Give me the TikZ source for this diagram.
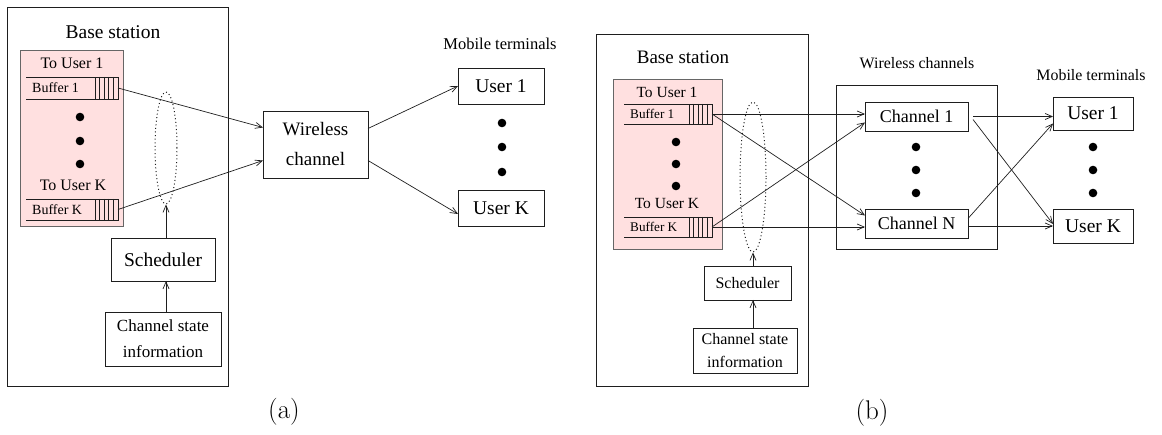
\documentclass[tikz,border=0pt]{standalone}
\usepackage{fontspec}
\usetikzlibrary{arrows.meta,shapes.geometric,calc}
\newfontfamily\tms{Liberation Serif}
\definecolor{qpink}{RGB}{255,224,224}
\definecolor{ink}{RGB}{30,30,30}

% one transmit queue: two rails, a striped head and a label
\newcommand\qbuf[8]{%
  \pgfmathsetmacro\qw{#4-#3}\pgfmathsetmacro\qh{#6-#5}%
  \draw[rail] (#2,#5) -- (#3,#5) (#2,#6) -- (#3,#6);
  \node[box, minimum width=\qw pt, minimum height=\qh pt, anchor=north west] (#1) at (#3,#5) {};
  \foreach \k in {1,...,4} \draw[rail] ({#3+\k*\qw/5},#5) -- ({#3+\k*\qw/5},#6);
  \node[font=\tms\fontsize{#8}{#8}\selectfont, anchor=west, inner sep=0pt] (#1l) at ({#2+6},{(#5+#6)/2}) {#7};
}

\tikzset{
  rail/.style={line width=0.8pt, draw=ink},
  box/.style={draw=ink, line width=0.9pt, inner sep=0pt, outer sep=0pt},
  arr/.style={line width=0.7pt, draw=ink, -{Straight Barb[length=7pt,width=6pt]}},
  bigdot/.style={fill=black},
  ring/.style={ellipse, draw=ink, dash pattern=on 1pt off 2.6pt, line width=1pt, inner sep=0pt},
  lbl/.style={inner sep=0pt},
}

\begin{document}
\begin{tikzpicture}[x=1pt,y=-1pt]
\useasboundingbox (0,0) rectangle (1162,435);

% ---------------- (a) single wireless channel ----------------
\node[box, minimum width=221pt, minimum height=379pt] (bsA) at (117.5,196.5) {};
\node[lbl, font=\tms\fontsize{19.5}{22}\selectfont] (bsAt) at (113,32) {Base station};
\node[box, fill=qpink, draw=black!60, minimum width=103pt, minimum height=176pt] (pkA) at (71.5,138) {};
\node[lbl, font=\tms\fontsize{16}{18}\selectfont] (toA1) at (72,63) {To User 1};
\node[lbl, font=\tms\fontsize{16}{18}\selectfont] (toAK) at (73,185) {To User K};
\qbuf{qA1}{26}{95}{118}{77}{99}{Buffer 1}{14}
\qbuf{qAK}{26}{95}{118}{199}{220}{Buffer K}{14}
\foreach \y in {117,141,164} \fill[bigdot] (80,\y) circle (4.3);

\node[ring, minimum width=22pt, minimum height=112pt] (ellA) at (166,148) {};
\node[box, minimum width=104pt, minimum height=43pt, font=\tms\fontsize{19.5}{22}\selectfont] (schA) at (163,259.5) {Scheduler};
\node[box, minimum width=116pt, minimum height=54pt, align=center, font=\tms\fontsize{17}{26}\selectfont] (csiA) at (163,339) {Channel state\\information};
\draw[arr] (csiA.north -| ellA.south) -- (schA.south -| ellA.south);
\draw[arr] (schA.north -| ellA.south) -- (ellA.south);

\node[box, minimum width=105pt, minimum height=67pt, align=center, font=\tms\fontsize{19}{30}\selectfont] (wcA) at (315.5,144.5) {Wireless\\channel};
\node[box, minimum width=86pt, minimum height=36pt, font=\tms\fontsize{19.5}{22}\selectfont] (uA1) at (501,86) {User 1};
\node[box, minimum width=86pt, minimum height=36pt, font=\tms\fontsize{19.5}{22}\selectfont] (uAK) at (501,208) {User K};
\foreach \y in {123,147,172} \fill[bigdot] (502,\y) circle (4.3);
\node[lbl, font=\tms\fontsize{16.5}{18}\selectfont] (mtA) at (500,44) {Mobile terminals};

\draw[arr] (qA1.east) -- ($(wcA.west)+(0,-17)$);
\draw[arr] (qAK.east) -- ($(wcA.west)+(0,16)$);
\draw[arr] ($(wcA.east)+(0,-16)$) -- (uA1.west);
\draw[arr] ($(wcA.east)+(0,16)$) -- ($(uAK.west)+(0,6)$);

\node[lbl, font=\fontsize{27}{29}\selectfont] (capA) at (284,412) {(a)};

% ---------------- (b) several parallel channels ----------------
\node[box, minimum width=212pt, minimum height=352pt] (bsB) at (702,210) {};
\node[lbl, font=\tms\fontsize{19}{22}\selectfont] (bsBt) at (683,57) {Base station};
\node[box, fill=qpink, draw=black!60, minimum width=109pt, minimum height=170pt] (pkB) at (667.5,164) {};
\node[lbl, font=\tms\fontsize{15.5}{18}\selectfont] (toB1) at (667,92) {To User 1};
\node[lbl, font=\tms\fontsize{15.5}{18}\selectfont] (toBK) at (667,204) {To User K};
\qbuf{qB1}{624}{689}{712}{104}{124}{Buffer 1}{13.2}
\qbuf{qBK}{624}{689}{712}{217}{237}{Buffer K}{13.2}
\foreach \y in {142,164,186} \fill[bigdot] (676,\y) circle (4.3);

\node[ring, minimum width=26pt, minimum height=150pt] (ellB) at (753,177) {};
\node[box, minimum width=87pt, minimum height=34pt, font=\tms\fontsize{16}{18}\selectfont] (schB) at (747.5,283) {Scheduler};
\node[box, minimum width=104pt, minimum height=45pt, align=center, font=\tms\fontsize{16}{23}\selectfont] (csiB) at (745,350.5) {Channel state\\information};
\draw[arr] (csiB.north -| ellB.south) -- (schB.south -| ellB.south);
\draw[arr] (schB.north -| ellB.south) -- (ellB.south);

\node[box, minimum width=161pt, minimum height=164pt] (wcB) at (916.5,167) {};
\node[lbl, font=\tms\fontsize{15.9}{18}\selectfont] (wcBt) at (917,63) {Wireless channels};
\node[box, minimum width=103pt, minimum height=29pt, font=\tms\fontsize{18}{20}\selectfont] (ch1) at (916.5,116.5) {Channel 1};
\node[box, minimum width=103pt, minimum height=29pt, font=\tms\fontsize{18}{20}\selectfont] (chN) at (916.5,223.5) {Channel N};
\foreach \y in {147,170,193} \fill[bigdot] (916,\y) circle (4.3);

\node[box, minimum width=80pt, minimum height=33pt, font=\tms\fontsize{19.5}{22}\selectfont] (uB1) at (1093,113.5) {User 1};
\node[box, minimum width=80pt, minimum height=34pt, font=\tms\fontsize{19.5}{22}\selectfont] (uBK) at (1093,226) {User K};
\foreach \y in {147,170,193} \fill[bigdot] (1093,\y) circle (4.3);
\node[lbl, font=\tms\fontsize{15.9}{18}\selectfont] (mtB) at (1091,75) {Mobile terminals};

\draw[arr] (qB1.east) -- (qB1.east -| ch1.west);
\draw[arr] (qB1.east) -- ($(chN.west)+(0,-8)$);
\draw[arr] (qBK.east) -- ($(ch1.west)+(0,6)$);
\draw[arr] (qBK.east) -- (qBK.east -| chN.west);

\draw[arr] ($(ch1.east)+(5,0)$) -- (ch1.east -| uB1.west);
\draw[arr] ($(ch1.east)+(5,3)$) -- ($(uBK.west)+(0,-2)$);
\draw[arr] ($(chN.east)+(0,-5)$) -- ($(uB1.west)+(0,10)$);
\draw[arr] ($(chN.east)+(0,2.5)$) -- ($(uBK.west)+(0,0)$);

\node[lbl, font=\fontsize{27}{29}\selectfont] (capB) at (872,413) {(b)};
\end{tikzpicture}
\end{document}
